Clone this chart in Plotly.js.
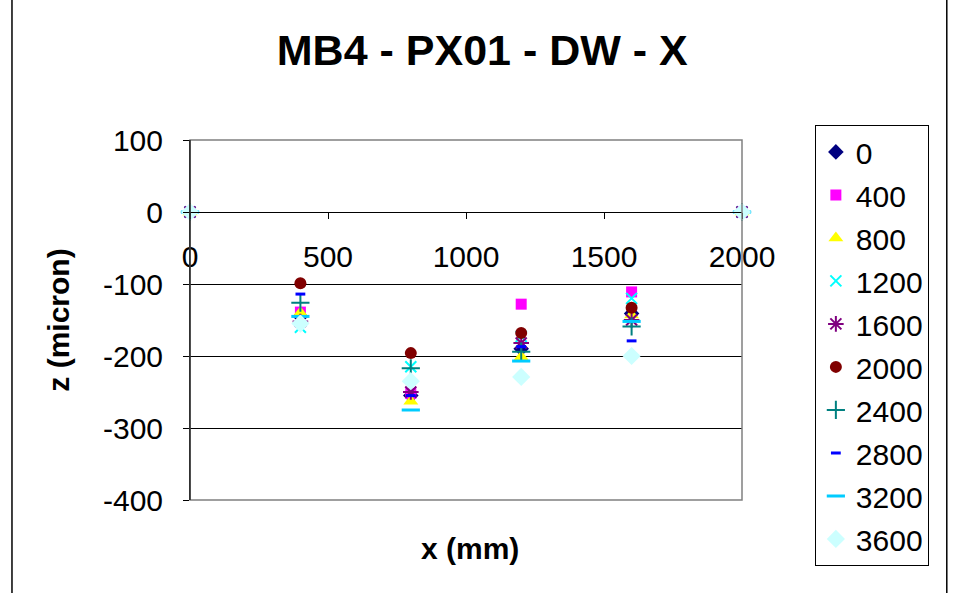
<!DOCTYPE html>
<html>
<head>
<meta charset="utf-8">
<script src="https://cdn.plot.ly/plotly-3.0.1.min.js"></script>
<style>html,body{margin:0;padding:0;background:#fff;}#chart{width:955px;height:593px;}</style>
</head>
<body>
<div id="chart"></div>
<script>
// x positions (mm)
const xPos = [0, 400, 800, 1200, 1600, 2000];
// series names
const seriesNames = ["0", "400", "800", "1200", "1600", "2000", "2400", "2800", "3200", "3600"];
// z values (micron) per series
const z0    = [0, -145, -255, -190, -141, 0];
const z400  = [0, -139, -252, -128, -111, 0];
const z800  = [0, -140, -263, -201, -143, 0];
const z1200 = [0, -160, -215, -173, -120, 0];
const z1600 = [0, -152, -250, -182, -150, 0];
const z2000 = [0,  -99, -196, -168, -133, 0];
const z2400 = [0, -126, -217, -194, -159, 0];
const z2800 = [0, -114, -255, -187, -179, 0];
const z3200 = [0, -145, -275, -207, -152, 0];
const z3600 = [0, -155, -235, -229, -200, 0];
const seriesValues = [z0, z400, z800, z1200, z1600, z2000, z2400, z2800, z3200, z3600];
const xTicks = [0, 500, 1000, 1500, 2000];
const yTicks = [100, 0, -100, -200, -300, -400];

const styles = [
  {symbol: "diamond", color: "#000080", size: 12},
  {symbol: "square", color: "#FF00FF", size: 11},
  {symbol: "triangle-up", color: "#FFFF00", size: 13},
  {symbol: "x-thin-open", color: "#00FFFF", size: 11, lw: 2},
  {symbol: "asterisk-open", color: "#800080", size: 13, lw: 2},
  {symbol: "circle", color: "#800000", size: 12},
  {symbol: "cross-thin-open", color: "#008080", size: 13, lw: 2},
  {symbol: "line-ew-open", color: "#0000FF", size: 7, lw: 3},
  {symbol: "line-ew-open", color: "#00CCFF", size: 13, lw: 3},
  {symbol: "diamond", color: "#CCFFFF", size: 14}
];

const font = "Liberation Sans, Arial, sans-serif";
const traces = seriesNames.map((name, i) => {
  const st = styles[i];
  const marker = {symbol: st.symbol, color: st.color, size: st.size,
                  line: {color: st.color, width: st.lw || 0}};
  return {x: xPos, y: seriesValues[i], name: name, type: "scatter", mode: "markers",
          marker: marker, legendgroup: "g" + i, cliponaxis: false};
});

const layout = {
  width: 955, height: 593,
  margin: {l: 190, r: 213, t: 140, b: 93},
  paper_bgcolor: "#fff", plot_bgcolor: "#fff",
  font: {family: font, color: "#000", size: 30},
  title: {text: "<b>MB4 - PX01 - DW - X</b>", font: {family: font, size: 43, color: "#000"},
          x: 0.505, xanchor: "center", y: 0.915, yanchor: "middle"},
  xaxis: {range: [0, 2000], tickvals: xTicks, ticktext: xTicks.map(String),
          anchor: "free", position: 0.8, showgrid: false, zeroline: false,
          showline: true, linecolor: "#000", linewidth: 1,
          ticks: "outside", ticklen: 6, tickcolor: "#000", ticklabelstandoff: 12,
          tickfont: {family: font, size: 30}},
  yaxis: {range: [-400, 100], tickvals: yTicks, ticktext: yTicks.map(String),
          showgrid: true, gridcolor: "#000", gridwidth: 1, zeroline: false,
          showline: true, linecolor: "#000", linewidth: 1,
          ticks: "outside", ticklen: 6, tickcolor: "#000", ticklabelstandoff: 14,
          tickfont: {family: font, size: 30},
          title: {text: "<b>z (micron)</b>", font: {family: font, size: 30}, standoff: 24}},
  showlegend: true,
  legend: {x: 1.132, y: 1.042, xanchor: "left", yanchor: "top",
           bordercolor: "#000", borderwidth: 1, bgcolor: "#fff", maxheight: 590,
           font: {family: font, size: 30}, tracegroupgap: 1, itemwidth: 30},
  annotations: [
    {text: "<b>x (mm)</b>", xref: "paper", yref: "paper", x: 0.507, y: -0.136,
     xanchor: "center", yanchor: "middle", showarrow: false,
     font: {family: font, size: 30, color: "#000"}}
  ],
  shapes: [
    {type: "rect", xref: "paper", yref: "paper", x0: 0, x1: 1, y0: 0, y1: 1,
     line: {color: "#808080", width: 1.5}, layer: "above"},
    {type: "line", xref: "paper", yref: "paper", x0: 0, x1: 0, y0: 0, y1: 1,
     line: {color: "#000", width: 1}, layer: "above"},
    {type: "line", xref: "paper", yref: "paper", x0: -0.3225, x1: -0.3225, y0: -0.3, y1: 1.4,
     line: {color: "#000", width: 1.5}},
    {type: "line", xref: "paper", yref: "paper", x0: 1.371, x1: 1.371, y0: -0.3, y1: 1.4,
     line: {color: "#000", width: 1.5}}
  ]
};

Plotly.newPlot("chart", traces, layout, {displayModeBar: false, staticPlot: true});
</script>
</body>
</html>
